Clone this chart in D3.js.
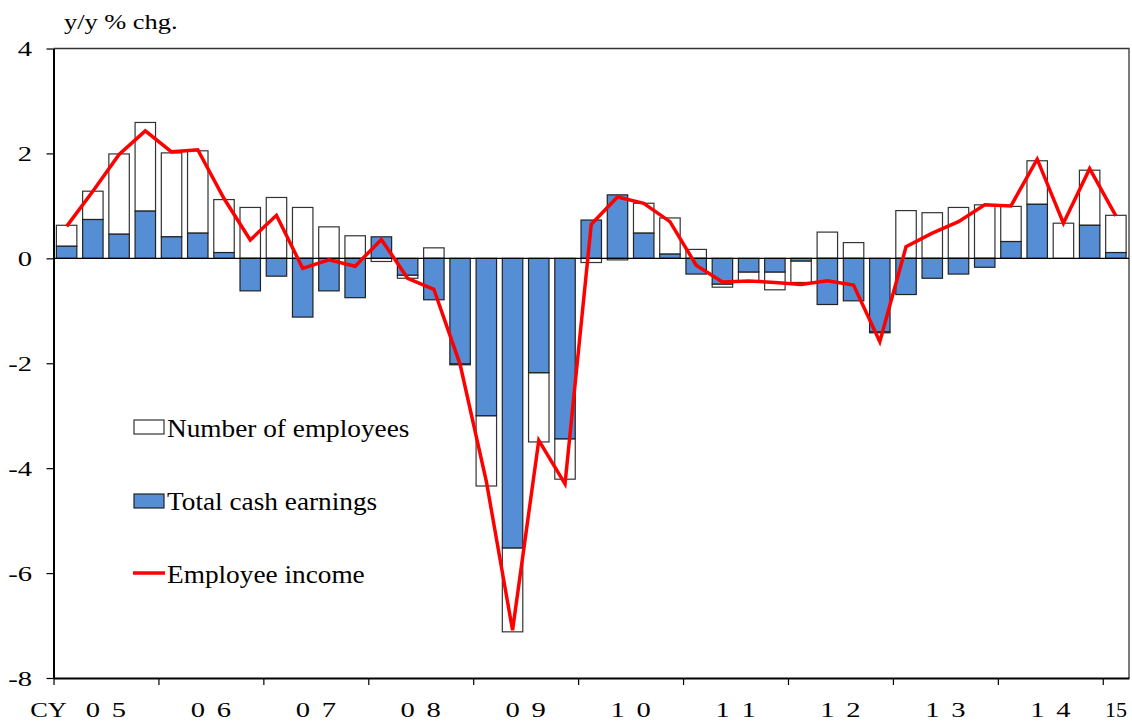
<!DOCTYPE html>
<html lang="en">
<head>
<meta charset="UTF-8">
<title>Employee income</title>
<script src="https://d3js.org/d3.v7.min.js"></script>
<style>
body { margin: 0; background: #fff; }
text { font-family: "Liberation Serif", "Times New Roman", serif; fill: #000; }
</style>
</head>
<body>
<div id="container"></div>
<script>
// quarters 2005Q1 .. 2015Q1
const years = ["05", "06", "07", "08", "09", "10", "11", "12", "13", "14", "15"];
const quarters = [];
years.forEach(y => [1, 2, 3, 4].forEach(q => quarters.push(y + "Q" + q)));
quarters.splice(41);

// Total cash earnings (contribution, %)
const cashEarnings = [
  0.23, 0.74, 0.46, 0.90,
  0.41, 0.48, 0.11, -0.62,
  -0.34, -1.12, -0.62, -0.75,
  0.41, -0.32, -0.79, -2.01,
  -3.00, -5.52, -2.18, -3.44,
  0.73, 1.21, 0.48, 0.08,
  -0.30, -0.49, -0.26, -0.26,
  -0.05, -0.88, -0.81, -1.40,
  -0.69, -0.38, -0.30, -0.17,
  0.32, 1.03, 0.00, 0.63,
  0.11
];

// Number of employees (contribution, %)
const employees = [
  0.40, 0.54, 1.53, 1.69,
  1.60, 1.57, 1.01, 0.97,
  1.16, 0.97, 0.60, 0.43,
  -0.06, -0.06, 0.20, -0.02,
  -1.34, -1.60, -1.32, -0.77,
  -0.08, -0.03, 0.57, 0.69,
  0.17, -0.06, -0.17, -0.34,
  -0.41, 0.50, 0.30, -0.02,
  0.91, 0.87, 0.97, 1.02,
  0.67, 0.83, 0.67, 1.05,
  0.71
];

// Employee income (y/y %)
const employeeIncome = [
  0.61, 1.28, 1.98, 2.43,
  2.03, 2.07, 1.14, 0.35,
  0.82, -0.19, -0.03, -0.15,
  0.36, -0.38, -0.59, -2.02,
  -4.25, -7.09, -3.47, -4.30,
  0.65, 1.17, 1.05, 0.70,
  -0.13, -0.45, -0.43, -0.46,
  -0.50, -0.43, -0.51, -1.59,
  0.22, 0.48, 0.70, 1.02,
  1.00, 1.89, 0.67, 1.71,
  0.81
];

const yTicks = [-8, -6, -4, -2, 0, 2, 4];

const width = 1132, height = 722;
const plotL = 53.5, plotR = 1129, plotT = 48.5, plotB = 678;
const blue = "#558ED5";
const font = "Liberation Serif, Times New Roman, serif";

const svg = d3.select("#container")
  .append("svg")
  .attr("width", width)
  .attr("height", height);

// scales
const x = d3.scaleBand().domain(quarters).range([plotL, plotR])
  .paddingInner(0.22).paddingOuter(0.11);
const xIdx = d3.scaleLinear().domain([0, quarters.length]).range([plotL, plotR]);
const y = d3.scaleLinear().domain([-8, 4]).range([plotB, plotT]);

// frame (top + right)
svg.append("path")
  .attr("d", `M${plotL},${plotT}H${plotR}V${plotB}`)
  .attr("fill", "none")
  .attr("stroke", "#333")
  .attr("stroke-width", 1.3);

// stacked bars (positives stack up, negatives stack down)
const data = quarters.map((q, i) => {
  const c = cashEarnings[i], e = employees[i];
  const sameSign = (c >= 0) === (e >= 0);
  return {
    q,
    c0: 0, c1: c,
    e0: sameSign ? c : 0, e1: sameSign ? c + e : e
  };
});

const bars = svg.append("g");
bars.selectAll("rect.emp")
  .data(data)
  .join("rect")
  .attr("class", "emp")
  .attr("x", d => x(d.q))
  .attr("width", x.bandwidth())
  .attr("y", d => y(Math.max(d.e0, d.e1)))
  .attr("height", d => Math.abs(y(d.e0) - y(d.e1)))
  .attr("fill", "#fff")
  .attr("stroke", "#333")
  .attr("stroke-width", 1.2);

bars.selectAll("rect.cash")
  .data(data)
  .join("rect")
  .attr("class", "cash")
  .attr("x", d => x(d.q))
  .attr("width", x.bandwidth())
  .attr("y", d => y(Math.max(d.c0, d.c1)))
  .attr("height", d => Math.abs(y(d.c0) - y(d.c1)))
  .attr("fill", blue)
  .attr("stroke", "#222")
  .attr("stroke-width", 1.2);

// zero line
svg.append("line")
  .attr("x1", plotL).attr("x2", plotR)
  .attr("y1", y(0)).attr("y2", y(0))
  .attr("stroke", "#000")
  .attr("stroke-width", 1.3);

// employee income line
const line = d3.line()
  .x((d, i) => x(quarters[i]) + x.bandwidth() / 2)
  .y(d => y(d));

svg.append("path")
  .datum(employeeIncome)
  .attr("fill", "none")
  .attr("stroke", "#ff0000")
  .attr("stroke-width", 3.5)
  .attr("stroke-linejoin", "miter")
  .attr("d", line);

// y axis
const yAxis = svg.append("g")
  .attr("transform", `translate(${plotL},0)`)
  .call(d3.axisLeft(y).tickValues(yTicks).tickSize(7).tickSizeOuter(0)
    .tickFormat(d => String(d)));
yAxis.select(".domain").attr("stroke", "#000").attr("stroke-width", 2);
yAxis.selectAll(".tick line").attr("stroke", "#000").attr("stroke-width", 1.2);
yAxis.selectAll(".tick text")
  .attr("font-family", font)
  .attr("font-size", 22)
  .attr("x", -21.5 / 1.3)
  .attr("dy", "0.33em")
  .attr("transform", "scale(1.3,1)");

// x axis (year boundaries)
const yearStarts = d3.range(0, quarters.length, 4);
const xAxis = svg.append("g")
  .attr("transform", `translate(0,${plotB})`)
  .call(d3.axisBottom(xIdx).tickValues(yearStarts).tickSize(7).tickSizeOuter(0)
    .tickFormat(""));
xAxis.select(".domain").attr("stroke", "#000").attr("stroke-width", 2.2);
xAxis.selectAll(".tick line").attr("stroke", "#000").attr("stroke-width", 1.2);

// year labels
const labelY = 717;
years.forEach((yr, k) => {
  if (yr === "15") {
    svg.append("text")
      .attr("x", xIdx(k * 4 + 0.5))
      .attr("y", labelY)
      .attr("text-anchor", "middle")
      .attr("font-size", 22)
      .text(yr);
  } else {
    const cx = xIdx(k * 4 + 2);
    yr.split("").forEach((ch, j) => {
      svg.append("text")
        .attr("transform", `translate(${cx + (j ? 13 : -13)},${labelY}) scale(1.3,1)`)
        .attr("text-anchor", "middle")
        .attr("font-size", 22)
        .text(ch);
    });
  }
});
svg.append("text")
  .attr("transform", `translate(48.5,${labelY}) scale(1.2,1)`)
  .attr("text-anchor", "middle")
  .attr("font-size", 22)
  .text("CY");

// unit title
svg.append("text")
  .attr("transform", "translate(64,29) scale(1.2,1)")
  .attr("font-size", 22)
  .text("y/y % chg.");

// legend
const legend = svg.append("g");
legend.append("rect")
  .attr("x", 134).attr("y", 420).attr("width", 30).attr("height", 14)
  .attr("fill", "#fff").attr("stroke", "#333").attr("stroke-width", 1.2);
legend.append("rect")
  .attr("x", 134).attr("y", 494).attr("width", 30).attr("height", 14)
  .attr("fill", blue).attr("stroke", "#222").attr("stroke-width", 1.2);
legend.append("line")
  .attr("x1", 133).attr("x2", 165).attr("y1", 573).attr("y2", 573)
  .attr("stroke", "#ff0000").attr("stroke-width", 3.5);

[["Number of employees", 437], ["Total cash earnings", 510], ["Employee income", 583]]
  .forEach(([t, by]) => {
    legend.append("text")
      .attr("transform", `translate(167,${by}) scale(1.05,1)`)
      .attr("font-size", 26)
      .text(t);
  });
</script>
</body>
</html>
